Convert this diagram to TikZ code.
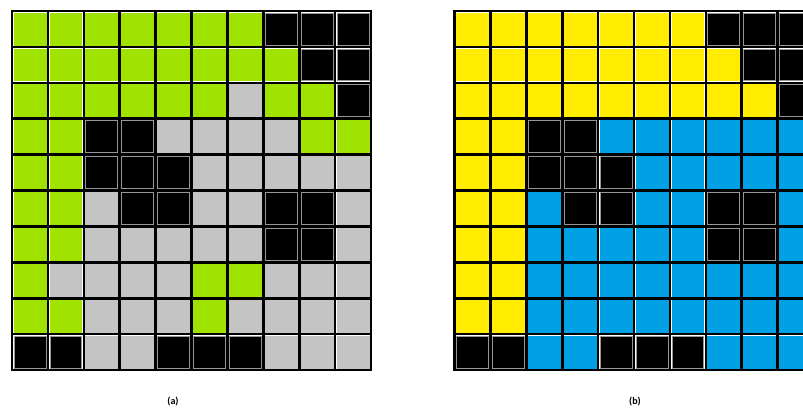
\documentclass[tikz,border=0pt]{standalone}
\usepackage{fontspec}
\setmainfont{Carlito}
\usepackage{xcolor}
\usepackage{tikz}

% cell colours
\definecolor{colG}{RGB}{160,226,0}
\definecolor{colY}{RGB}{255,236,0}
\definecolor{colB}{RGB}{0,160,228}
\definecolor{colS}{RGB}{196,196,196}
\definecolor{colK}{RGB}{0,0,0}
% inner edge of each cell
\colorlet{edgeG}{colG}
\colorlet{edgeY}{colY}
\colorlet{edgeB}{colB}
\colorlet{edgeS}{colS}
\definecolor{edgeK}{RGB}{150,150,150}

\newcommand\gridA{{G,G,G,G,G,G,G,K,K,K},{G,G,G,G,G,G,G,G,K,K},{G,G,G,G,G,G,S,G,G,K},{G,G,K,K,S,S,S,S,G,G},{G,G,K,K,K,S,S,S,S,S},{G,G,S,K,K,S,S,K,K,S},{G,G,S,S,S,S,S,K,K,S},{G,S,S,S,S,G,G,S,S,S},{G,G,S,S,S,G,S,S,S,S},{K,K,S,S,K,K,K,S,S,S}}
\newcommand\gridB{{Y,Y,Y,Y,Y,Y,Y,K,K,K},{Y,Y,Y,Y,Y,Y,Y,Y,K,K},{Y,Y,Y,Y,Y,Y,Y,Y,Y,K},{Y,Y,K,K,B,B,B,B,B,B},{Y,Y,K,K,K,B,B,B,B,B},{Y,Y,B,K,K,B,B,K,K,B},{Y,Y,B,B,B,B,B,K,K,B},{Y,Y,B,B,B,B,B,B,B,B},{Y,Y,B,B,B,B,B,B,B,B},{K,K,B,B,K,K,K,B,B,B}}

\begin{document}
\begin{tikzpicture}[
        x=1pt, y=-1pt,
        cell/.style={line width=0.8pt},
        gridline/.style={draw=black, line width=2.6pt, line cap=rect},
        caption/.style={font=\bfseries\normalsize, inner sep=0pt}
    ]
        \clip (0,0) rectangle (803,410);
        \fill[white] (0,0) rectangle (803,410);

        % Grid (a)
        \begin{scope}[shift={(12,11)}]
            \foreach \row [count=\j from 0] in \gridA {
                \foreach \c [count=\i from 0] in \row {
                    \filldraw[cell, fill=col\c, draw=edge\c] (35.9*\i+2, 35.9*\j+2) rectangle ++(31.9,31.9);
                }
            }
            \foreach \k in {0,...,10} {
                \draw[gridline] (35.9*\k, 0) -- (35.9*\k, 359);
                \draw[gridline] (0, 35.9*\k) -- (359, 35.9*\k);
            }
        \end{scope}

        % Grid (b)
        \begin{scope}[shift={(454.5,11)}]
            \foreach \row [count=\j from 0] in \gridB {
                \foreach \c [count=\i from 0] in \row {
                    \filldraw[cell, fill=col\c, draw=edge\c] (35.9*\i+2, 35.9*\j+2) rectangle ++(31.9,31.9);
                }
            }
            \foreach \k in {0,...,10} {
                \draw[gridline] (35.9*\k, 0) -- (35.9*\k, 359);
                \draw[gridline] (0, 35.9*\k) -- (359, 35.9*\k);
            }
        \end{scope}

        % Captions
        \node[caption] (capA) at (173,402) {(a)};
        \node[caption] (capB) at (635,402) {(b)};
    \end{tikzpicture}
\end{document}
